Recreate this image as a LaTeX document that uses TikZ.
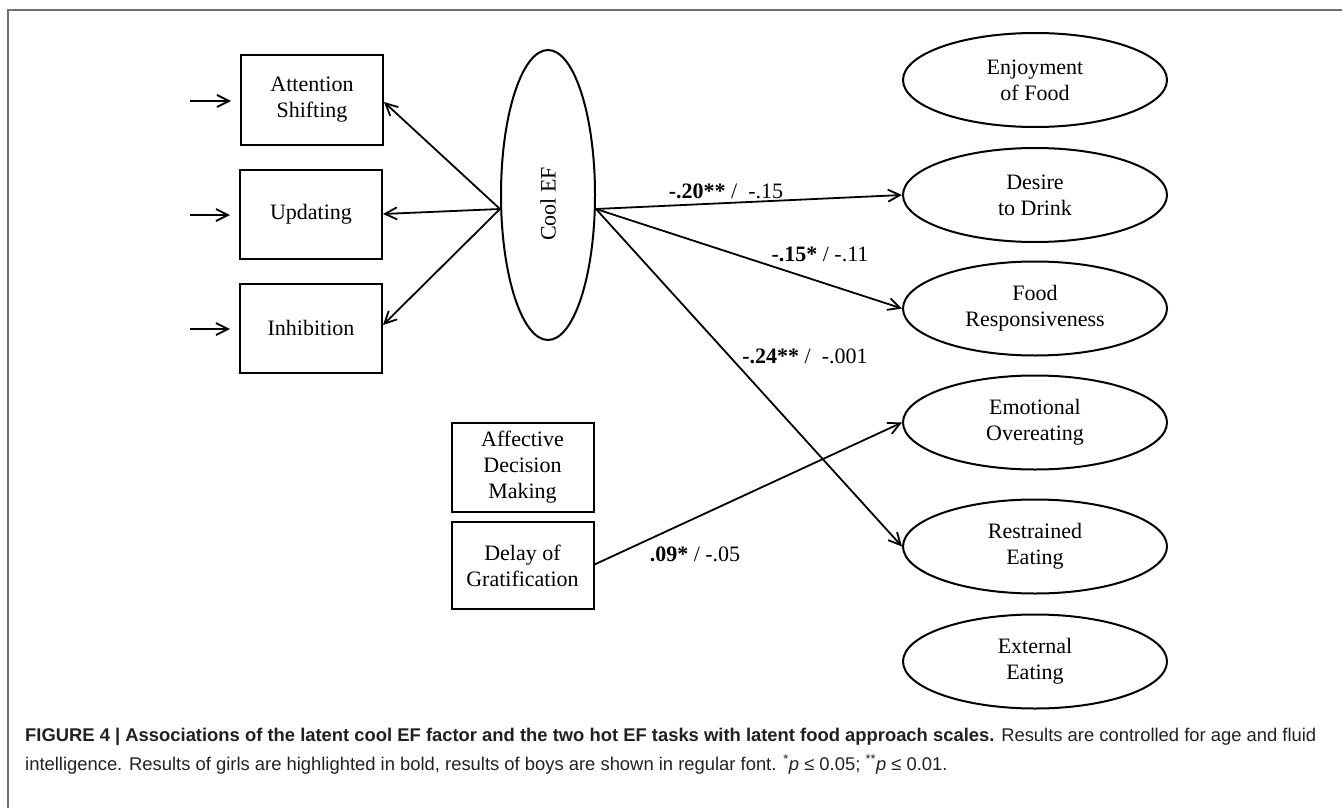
\documentclass[tikz,border=0pt]{standalone}
\usepackage{fontspec}
\setmainfont{Liberation Serif}
\newfontfamily\capfont{Liberation Sans}
\usetikzlibrary{shapes.geometric,arrows.meta}
\definecolor{framegray}{HTML}{707070}
\definecolor{captext}{HTML}{231F20}
\begin{document}
\begin{tikzpicture}[x=1pt,y=-1pt,
  font=\fontsize{22}{26}\selectfont,
  every node/.style={text=black},
  box/.style={draw,line width=2pt,minimum width=142pt,minimum height=89pt,inner sep=0pt,align=center},
  oval/.style={draw,ellipse,line width=2pt,minimum width=264pt,minimum height=94pt,inner sep=0pt,align=center},
  arr/.style={line width=1.8pt,-{Straight Barb[length=12pt,width=12pt,line width=1.8pt]}},
  coef/.style={anchor=base,inner sep=0pt},
  capline/.style={anchor=base west,inner sep=0pt,text=captext,font=\capfont\fontsize{18.4}{22}\selectfont}]
\useasboundingbox (0,0) rectangle (1342,808);
% frame
\draw[framegray,line width=2pt] (1342,10) -- (8,10) -- (8,808);
% left boxes
\node[box] (att) at (312,100) {Attention\\Shifting};
\node[box] (upd) at (311,214) {Updating};
\node[box] (inh) at (311,328) {Inhibition};
\coordinate (i1) at (190,101);
\coordinate (i2) at (190,215);
\coordinate (i3) at (190,329);
\draw[arr,shorten >=9pt] (i1) -- (i1 -| att.west);
\draw[arr,shorten >=9pt] (i2) -- (i2 -| upd.west);
\draw[arr,shorten >=9pt] (i3) -- (i3 -| inh.west);
% cool EF
\node[draw,ellipse,line width=2pt,minimum width=94pt,minimum height=290pt,inner sep=0pt] (cool) at (548,195) {};
\node[rotate=90] (cooltxt) at (548,204) {Cool EF};
\coordinate (cw) at ([yshift=-14pt]cool.west);
\coordinate (ce) at ([yshift=-14pt]cool.east);
\draw[arr] (cw) -- ([yshift=-2pt]att.east);
\draw[arr] (cw) -- (upd.east);
\draw[arr] (cw) -- ([yshift=3pt]inh.east);
% hot EF boxes
\node[box] (aff) at (522.5,467.5) {Affective\\Decision\\Making};
\node[box,minimum height=87pt] (del) at (522.5,565.5) {Delay of\\Gratification};
% right ovals
\node[oval] (enj) at (1035,80) {Enjoyment\\of Food};
\node[oval] (des) at (1035,195) {Desire\\to Drink};
\node[oval] (foo) at (1035,308.5) {Food\\Responsiveness};
\node[oval] (emo) at (1035,422.5) {Emotional\\Overeating};
\node[oval] (res) at (1035,546.5) {Restrained\\Eating};
\node[oval] (ext) at (1035,661.5) {External\\Eating};
% paths
\draw[arr] (ce) -- (des.west);
\draw[arr] (ce) -- (foo.west);
\draw[arr] (ce) -- (res.west);
\draw[arr] ([yshift=1pt]del.east) -- (emo.west);
% coefficients
\node[coef] (c1) at (726,198) {\textbf{-.20**} /\ \ -.15};
\node[coef] (c2) at (820,261) {\textbf{-.15*} / -.11};
\node[coef] (c3) at (805,363) {\textbf{-.24**} /\ \ -.001};
\node[coef] (c4) at (695,561) {\textbf{.09*} / -.05};
% caption
\node[capline] (cap1) at (25,741) {\textbf{FIGURE 4 | Associations of the latent cool EF factor and the two hot EF tasks with latent food approach scales.} Results are controlled for age and fluid};
\node[capline] (cap2) at (25,770) {intelligence. Results of girls are highlighted in bold, results of boys are shown in regular font. \textsuperscript{*}\textit{p} ≤ 0.05; \textsuperscript{**}\textit{p} ≤ 0.01.};
\end{tikzpicture}
\end{document}
